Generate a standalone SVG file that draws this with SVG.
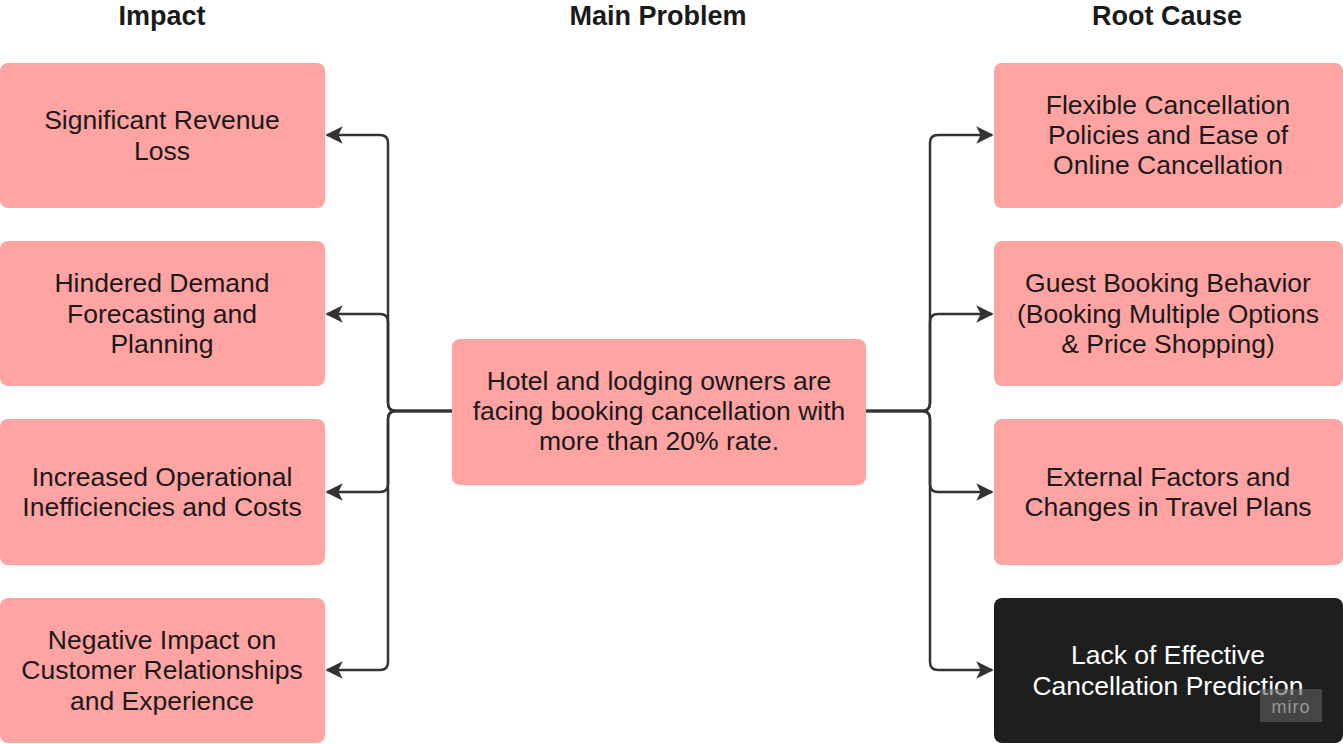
<svg xmlns="http://www.w3.org/2000/svg" width="1343" height="744" viewBox="0 0 1343 744">
<style>
.h{font-family:"Liberation Sans",Arial,sans-serif;font-weight:bold;font-size:27px;fill:#1a1a1a;text-anchor:middle}
.box{fill:#FFA3A3}
.dark{fill:#1E1E1E}
.t{font-family:"Liberation Sans",Arial,sans-serif;font-size:26.5px;fill:#1a1a1a;text-anchor:middle}
.tw{font-family:"Liberation Sans",Arial,sans-serif;font-size:26.5px;fill:#ffffff;text-anchor:middle}
.c{fill:none;stroke:#333;stroke-width:2.5}
</style>
<defs>
<marker id="ah" viewBox="0 0 10 10" refX="9" refY="5" markerWidth="7" markerHeight="7" markerUnits="strokeWidth" orient="auto">
<path d="M0,0 L10,5 L0,10 L2.5,5 Z" fill="#333"/>
</marker>
</defs>
<rect width="1343" height="744" fill="#ffffff"/>
<text class="h" x="162" y="25">Impact</text>
<text class="h" x="658" y="25">Main Problem</text>
<text class="h" x="1167" y="25">Root Cause</text>
<g id="connectors">
<path class="c" marker-end="url(#ah)" d="M452,411 H396 Q388,411 388,403 V143 Q388,135 380,135 H327"/>
<path class="c" marker-end="url(#ah)" d="M452,411 H396 Q388,411 388,403 V322 Q388,314 380,314 H327"/>
<path class="c" marker-end="url(#ah)" d="M452,411 H396 Q388,411 388,419 V484 Q388,492 380,492 H327"/>
<path class="c" marker-end="url(#ah)" d="M452,411 H396 Q388,411 388,419 V662 Q388,670 380,670 H327"/>
<path class="c" marker-end="url(#ah)" d="M866,411 H922 Q930,411 930,403 V143 Q930,135 938,135 H992"/>
<path class="c" marker-end="url(#ah)" d="M866,411 H922 Q930,411 930,403 V322 Q930,314 938,314 H992"/>
<path class="c" marker-end="url(#ah)" d="M866,411 H922 Q930,411 930,419 V484 Q930,492 938,492 H992"/>
<path class="c" marker-end="url(#ah)" d="M866,411 H922 Q930,411 930,419 V662 Q930,670 938,670 H992"/>
</g>
<g id="impact1"><rect class="box" x="0" y="63" width="325" height="145" rx="8"/>
<text class="t" x="162" y="129">Significant Revenue</text><text class="t" x="162" y="160">Loss</text></g>
<g id="impact2"><rect class="box" x="0" y="241" width="325" height="145" rx="8"/>
<text class="t" x="162" y="292">Hindered Demand</text><text class="t" x="162" y="323">Forecasting and</text><text class="t" x="162" y="353">Planning</text></g>
<g id="impact3"><rect class="box" x="0" y="419" width="325" height="146" rx="8"/>
<text class="t" x="162" y="486">Increased Operational</text><text class="t" x="162" y="516">Inefficiencies and Costs</text></g>
<g id="impact4"><rect class="box" x="0" y="598" width="325" height="145" rx="8"/>
<text class="t" x="162" y="649">Negative Impact on</text><text class="t" x="162" y="679">Customer Relationships</text><text class="t" x="162" y="710">and Experience</text></g>
<g id="main"><rect class="box" x="452" y="339" width="414" height="146" rx="8"/>
<text class="t" x="659" y="390">Hotel and lodging owners are</text><text class="t" x="659" y="420">facing booking cancellation with</text><text class="t" x="659" y="450">more than 20% rate.</text></g>
<g id="cause1"><rect class="box" x="994" y="63" width="349" height="145" rx="8"/>
<text class="t" x="1168" y="114">Flexible Cancellation</text><text class="t" x="1168" y="144">Policies and Ease of</text><text class="t" x="1168" y="174">Online Cancellation</text></g>
<g id="cause2"><rect class="box" x="994" y="241" width="349" height="145" rx="8"/>
<text class="t" x="1168" y="292">Guest Booking Behavior</text><text class="t" x="1168" y="323">(Booking Multiple Options</text><text class="t" x="1168" y="353">&amp; Price Shopping)</text></g>
<g id="cause3"><rect class="box" x="994" y="419" width="349" height="146" rx="8"/>
<text class="t" x="1168" y="486">External Factors and</text><text class="t" x="1168" y="516">Changes in Travel Plans</text></g>
<g id="cause4"><rect class="dark" x="994" y="598" width="349" height="145" rx="8"/>
<text class="tw" x="1168" y="664">Lack of Effective</text><text class="tw" x="1168" y="695">Cancellation Prediction</text></g>
<g id="watermark"><rect x="1260" y="689" width="62" height="33" fill="#606060" fill-opacity="0.6"/>
<text x="1291" y="713" font-family="'Liberation Sans',Arial,sans-serif" font-size="18" fill="#9a9a9a" text-anchor="middle" letter-spacing="1">miro</text></g>
</svg>
